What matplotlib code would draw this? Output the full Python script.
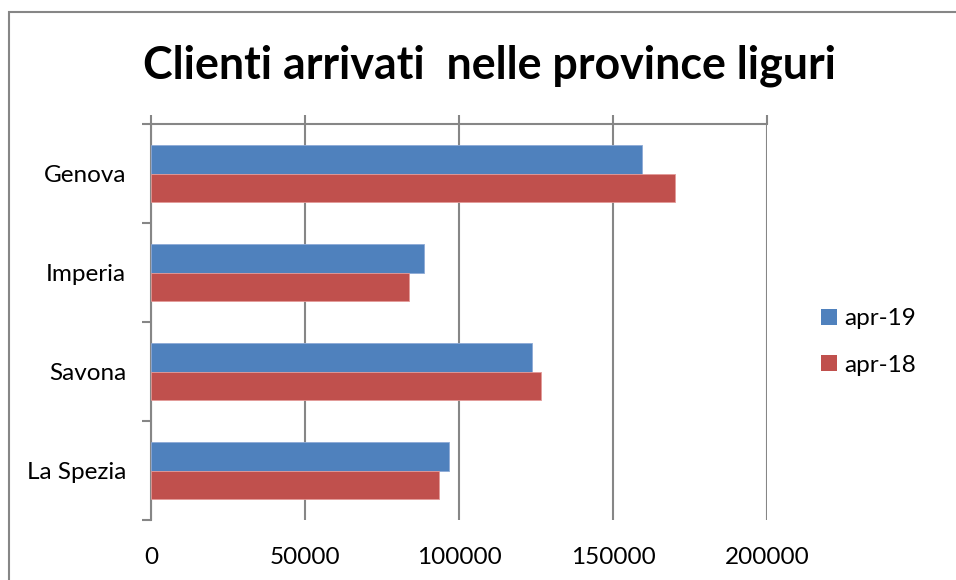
import matplotlib.pyplot as plt
from matplotlib.patches import Patch, Rectangle

provinces = ["Genova", "Imperia", "Savona", "La Spezia"]
arrivi_apr19 = [159400, 88700, 123800, 96600]
arrivi_apr18 = [170100, 83800, 126700, 93400]
x_ticks = [0, 50000, 100000, 150000, 200000]
series_labels = ["apr-19", "apr-18"]

BLUE = "#4F81BD"
RED = "#C0504D"
GRID = "#868686"
FONT = "Lato"

W, H = 956, 580
fig = plt.figure(figsize=(W / 100, H / 100), dpi=100)

# outer chart border (runs off the right and bottom edges)
fig.patches.append(Rectangle((9 / W, -0.1), 1.2, 1.1 - 12 / H, transform=fig.transFigure,
                             fill=False, edgecolor=GRID, linewidth=1.5))

ax = fig.add_axes([151 / W, 1 - 520 / H, (767 - 151) / W, (520 - 124) / H])

bar_h = 0.287
ypos = list(range(len(provinces)))
ax.barh([y - bar_h / 2 for y in ypos], arrivi_apr19, height=bar_h, color=BLUE,
        edgecolor="#8EAAD6", linewidth=0.6, zorder=3)
ax.barh([y + bar_h / 2 for y in ypos], arrivi_apr18, height=bar_h, color=RED,
        edgecolor="#E39A98", linewidth=0.6, zorder=3)

ax.set_xlim(0, 200000)
ax.set_ylim(len(provinces) - 0.5, -0.5)
ax.set_xticks(x_ticks)
ax.set_xticklabels([str(v) for v in x_ticks], fontfamily=FONT, fontsize=17.5)
ax.set_yticks(ypos)
ax.set_yticklabels(provinces, fontfamily=FONT, fontsize=17.5)
ax.set_yticks([y - 0.5 for y in range(len(provinces) + 1)], minor=True)

ax.grid(axis="x", color=GRID, linewidth=1.5, zorder=0)
ax.tick_params(axis="x", top=True, bottom=False, labeltop=False, labelbottom=True,
               direction="out", length=6.5, width=1.5, color=GRID, pad=13)
ax.tick_params(axis="y", which="major", length=0, pad=18)
ax.tick_params(axis="y", which="minor", length=6.5, width=1.5, color=GRID, direction="out")

for side in ("right", "bottom"):
    ax.spines[side].set_visible(False)
for side in ("top", "left"):
    ax.spines[side].set_color(GRID)
    ax.spines[side].set_linewidth(1.5)

fig.text(489.5 / W, 1 - 66 / H, "Clienti arrivati  nelle province liguri",
         ha="center", va="center", fontfamily=FONT, fontweight="bold", fontsize=32.2)

handles = [Patch(facecolor=BLUE, label=series_labels[0]),
           Patch(facecolor=RED, label=series_labels[1])]
fig.legend(handles=handles, loc="center left", bbox_to_anchor=(799 / W, 1 - 342 / H),
           frameon=False, prop={"family": FONT, "size": 17.5}, handlelength=0.65,
           handleheight=0.65, handletextpad=0.3, labelspacing=1.05)

fig.savefig("out.png", dpi=100)
